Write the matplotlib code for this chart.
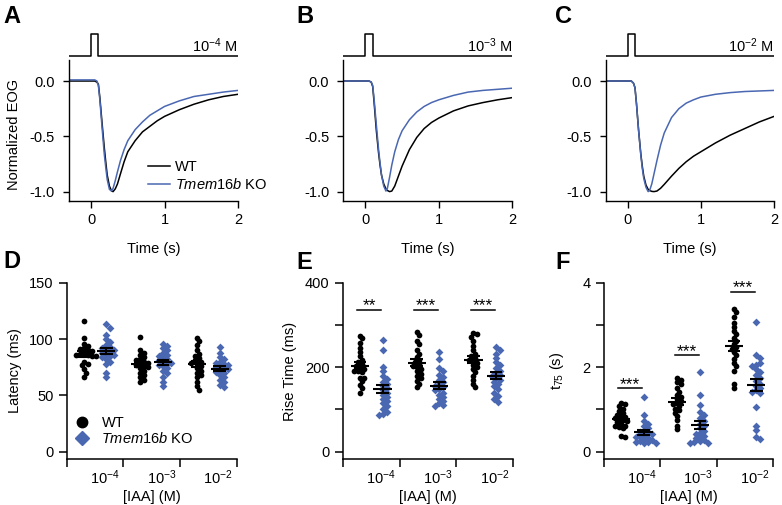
import numpy as np
import matplotlib
matplotlib.use('Agg')
import matplotlib.pyplot as plt
from matplotlib.lines import Line2D

plt.rcParams['font.family'] = ['Liberation Sans', 'DejaVu Sans']
plt.rcParams['mathtext.fontset'] = 'custom'
plt.rcParams['mathtext.rm'] = 'Liberation Sans'
plt.rcParams['mathtext.it'] = 'Liberation Sans:italic'
plt.rcParams['mathtext.bf'] = 'Liberation Sans:bold'
plt.rcParams['font.size'] = 10.5

# ---------------- data: EOG traces ----------------
time_s = [-0.3, -0.2, -0.1, 0.0, 0.05, 0.08, 0.1, 0.12, 0.15, 0.18, 0.2, 0.22, 0.25, 0.28, 0.3,
          0.33, 0.36, 0.4, 0.45, 0.5, 0.6, 0.7, 0.8, 0.9, 1.0, 1.2, 1.4, 1.6, 1.8, 2.0]

wt_1e4 = [0, 0, 0, 0, 0, -0.01, -0.03, -0.15, -0.38, -0.6, -0.73, -0.85, -0.95, -0.995, -1.0,
          -0.975, -0.93, -0.84, -0.73, -0.64, -0.54, -0.46, -0.41, -0.36, -0.32, -0.26, -0.21, -0.17, -0.14, -0.12]
ko_1e4 = [0.01, 0.01, 0.01, 0.01, 0.01, 0.0, -0.04, -0.17, -0.42, -0.66, -0.78, -0.89, -0.98, -0.995, -0.97,
          -0.9, -0.82, -0.72, -0.62, -0.54, -0.44, -0.37, -0.31, -0.27, -0.23, -0.18, -0.14, -0.12, -0.1, -0.085]
wt_1e3 = [0, 0, 0, 0, 0, -0.01, -0.05, -0.2, -0.45, -0.65, -0.76, -0.85, -0.93, -0.975, -0.99,
          -1.0, -0.995, -0.95, -0.86, -0.77, -0.62, -0.51, -0.43, -0.375, -0.335, -0.27, -0.225, -0.195, -0.17, -0.15]
ko_1e3 = [0, 0, 0, 0, 0, -0.01, -0.04, -0.17, -0.4, -0.62, -0.74, -0.85, -0.95, -0.995, -0.97,
          -0.87, -0.76, -0.64, -0.53, -0.45, -0.35, -0.28, -0.23, -0.195, -0.17, -0.13, -0.1, -0.085, -0.075, -0.065]
wt_1e2 = [0, 0, 0, 0, 0, -0.02, -0.06, -0.2, -0.45, -0.66, -0.77, -0.86, -0.94, -0.98, -0.99,
          -0.998, -1.0, -0.995, -0.97, -0.935, -0.86, -0.79, -0.73, -0.68, -0.64, -0.56, -0.49, -0.43, -0.37, -0.32]
ko_1e2 = [0, 0, 0, 0, 0, -0.02, -0.06, -0.2, -0.45, -0.67, -0.79, -0.88, -0.96, -1.0, -0.99,
          -0.93, -0.84, -0.72, -0.58, -0.47, -0.33, -0.25, -0.2, -0.17, -0.145, -0.12, -0.105, -0.095, -0.09, -0.085]

stim_t = [-0.3, 0.0, 0.0, 0.1, 0.1, 2.0]
stim_v = [0, 0, 1, 1, 0, 0]
conc_titles = [r'$10^{-4}$ M', r'$10^{-3}$ M', r'$10^{-2}$ M']

# ---------------- data: scatter panels ----------------
conc_labels = [r'$10^{-4}$', r'$10^{-3}$', r'$10^{-2}$']

latency_wt = [
    [116, 101, 96, 94, 92, 91, 90, 89, 88, 87, 86, 85, 86, 85, 80, 78, 77, 73, 70, 66],
    [102, 90, 88, 86, 84, 82, 81, 80, 79, 78, 77, 76, 75, 74, 72, 70, 68, 66, 64, 62],
    [101, 98, 95, 90, 87, 85, 83, 81, 80, 79, 78, 76, 74, 72, 70, 68, 66, 62, 58, 55],
]
latency_ko = [
    [113, 110, 104, 100, 97, 95, 93, 92, 91, 90, 89, 88, 87, 86, 85, 84, 82, 80, 78, 70, 66],
    [96, 94, 92, 90, 88, 86, 85, 84, 82, 81, 80, 79, 78, 77, 76, 74, 72, 70, 66, 62, 58],
    [93, 88, 84, 82, 80, 79, 78, 77, 76, 75, 74, 73, 72, 71, 70, 68, 66, 64, 62, 59, 57],
]
rise_wt = [
    [275, 268, 258, 245, 235, 226, 218, 212, 208, 204, 200, 196, 192, 188, 190, 175, 175, 168, 158, 150, 140],
    [284, 276, 262, 255, 240, 232, 225, 218, 212, 208, 204, 200, 196, 190, 185, 180, 175, 168, 160, 152],
    [280, 278, 272, 262, 250, 240, 232, 226, 222, 218, 214, 210, 205, 200, 195, 188, 180, 170, 160, 152],
]
rise_ko = [
    [265, 240, 200, 190, 180, 172, 165, 160, 155, 150, 145, 140, 135, 130, 125, 120, 115, 108, 100, 95, 90, 87],
    [237, 220, 198, 190, 182, 176, 170, 165, 160, 156, 152, 148, 145, 140, 135, 130, 125, 120, 115, 110, 107],
    [247, 240, 232, 222, 212, 205, 198, 192, 186, 182, 178, 174, 170, 165, 160, 155, 148, 140, 132, 125, 118],
]
t75_wt = [
    [1.16, 1.12, 1.08, 1.02, 0.96, 0.92, 0.88, 0.85, 0.82, 0.80, 0.78, 0.75, 0.72, 0.70, 0.66, 0.62, 0.58, 0.60, 0.55, 0.38, 0.34],
    [1.74, 1.70, 1.65, 1.60, 1.50, 1.42, 1.35, 1.30, 1.25, 1.20, 1.16, 1.12, 1.08, 1.02, 0.98, 0.92, 0.85, 0.75, 0.62, 0.53],
    [3.37, 3.30, 3.20, 3.05, 2.95, 2.85, 2.78, 2.70, 2.62, 2.55, 2.48, 2.42, 2.35, 2.28, 2.20, 2.10, 2.02, 1.90, 1.60, 1.50],
]
t75_ko = [
    [1.30, 0.87, 0.72, 0.65, 0.60, 0.55, 0.50, 0.47, 0.44, 0.42, 0.40, 0.37, 0.35, 0.32, 0.30, 0.28, 0.26, 0.24, 0.22, 0.21, 0.20],
    [1.89, 1.34, 1.10, 0.95, 0.88, 0.80, 0.72, 0.65, 0.60, 0.55, 0.50, 0.45, 0.42, 0.38, 0.35, 0.32, 0.28, 0.25, 0.23, 0.21, 0.20],
    [3.08, 2.29, 2.22, 2.05, 2.10, 2.02, 1.95, 1.88, 1.82, 1.75, 1.68, 1.60, 1.55, 1.50, 1.45, 1.42, 1.38, 1.05, 0.62, 0.52, 0.35, 0.30],
]
sig_rise = ['**', '***', '***']
sig_rise_y = [335, 335, 335]
sig_t75 = ['***', '***', '***']
sig_t75_y = [1.50, 2.28, 3.79]

BLUE = '#4a67b2'
W, H = 782, 505


def fr(x0, y0, x1, y1):
    return [x0 / W, 1 - y1 / H, (x1 - x0) / W, (y1 - y0) / H]


fig = plt.figure(figsize=(W / 100, H / 100), dpi=100)

# ---------------- top row ----------------
top_boxes = [(69, 238), (343.3, 512.3), (605.7, 774)]
traces = [(wt_1e4, ko_1e4), (wt_1e3, ko_1e3), (wt_1e2, ko_1e2)]
for i, ((x0, x1), (wt, ko)) in enumerate(zip(top_boxes, traces)):
    ax = fig.add_axes(fr(x0, 60, x1, 201))
    ax.plot(time_s, wt, color='k', lw=1.1)
    ax.plot(time_s, ko, color=BLUE, lw=1.1)
    ax.set_xlim(-0.3, 2.0)
    ax.set_ylim(-1.085, 0.19)
    ax.set_yticks([-1.0, -0.5, 0.0])
    ax.set_yticklabels(['-1.0', '-0.5', '0.0'])
    ax.set_xticks([0, 1, 2])
    for s in ['top', 'right']:
        ax.spines[s].set_visible(False)
    for s in ['left', 'bottom']:
        ax.spines[s].set_linewidth(1.0)
    ax.tick_params(axis='y', direction='out', length=4.2, width=1.0, pad=6)
    ax.tick_params(axis='x', direction='out', length=5, width=1.0, pad=4)
    ax.set_xlabel('Time (s)')
    ax.xaxis.set_label_coords(0.5, -0.29)
    if i == 0:
        ax.set_ylabel('Normalized EOG')
        ax.yaxis.set_label_coords(-0.284, 0.47)
        hs = [Line2D([], [], color='k', lw=1.1), Line2D([], [], color=BLUE, lw=1.1)]
        ax.legend(hs, ['WT', r'$\mathit{Tmem16b}$ KO'], loc='center left',
                  bbox_to_anchor=(0.47, 0.175), frameon=False, borderpad=0,
                  handlelength=1.5, handletextpad=0.3, labelspacing=0.2, borderaxespad=0)
    # stimulus
    sa = fig.add_axes(fr(x0, 30, x1, 58))
    sa.plot(stim_t, stim_v, color='k', lw=1.1)
    sa.set_xlim(-0.3, 2.0)
    sa.set_ylim(-0.09, 1.18)
    sa.axis('off')
    sa.text(2.0, 0.16, conc_titles[i], ha='right', va='baseline')


# ---------------- bottom row ----------------
def swarm_offsets(vals, ppx, ppy, d, step):
    placed = []
    offs = []
    cands = [0.0]
    for j in range(1, 40):
        cands += [j * step, -j * step]
    for v in vals:
        y = v * ppy
        for c in cands:
            if all((c - px) ** 2 + (y - py) ** 2 >= d * d for px, py in placed):
                break
        placed.append((c, y))
        offs.append(c / ppx)
    return np.array(offs)


bot_boxes = [(66.7, 236.7), (342.7, 513.3), (604, 773.3)]
datasets = [(latency_wt, latency_ko), (rise_wt, rise_ko), (t75_wt, t75_ko)]
ymax = [150, 400, 4]
yticks = [[0, 50, 100, 150], [0, 100, 200, 300, 400], [0, 1, 2, 3, 4]]
yticklabels = [['0', '50', '100', '150'], ['0', '', '200', '', '400'], ['0', '', '2', '', '4']]
ylabels = ['Latency (ms)', 'Rise Time (ms)', r'$\mathregular{t_{75}}$ (s)']
ylab_x = [-0.263, -0.266, -0.224]

axes_bot = []
for k, ((x0, x1), (wt, ko)) in enumerate(zip(bot_boxes, datasets)):
    ax = fig.add_axes(fr(x0, 282.7, x1, 459.3))
    axes_bot.append(ax)
    ppx = (x1 - x0) / 3.0
    ppy = 169.0 / ymax[k]
    for g in range(3):
        for vals, xc, col, mk, sz, dd in [(wt[g], g + 0.3, 'k', 'o', 17, 3.4),
                                          (ko[g], g + 0.7, BLUE, 'D', 16, 4.0)]:
            v = np.array(vals, dtype=float)
            offs = swarm_offsets(v, ppx, ppy, dd, 2.0)
            ax.scatter(xc + offs, v, s=sz, marker=mk, color=col, linewidths=0, zorder=3)
            m = v.mean()
            se = v.std(ddof=1) / np.sqrt(len(v))
            ax.plot([xc - 0.16, xc + 0.16], [m, m], color='k', lw=1.5, zorder=5, solid_capstyle='butt')
            ax.plot([xc - 0.11, xc + 0.11], [m + se, m + se], color='k', lw=1.5, zorder=5, solid_capstyle='butt')
            ax.plot([xc - 0.11, xc + 0.11], [m - se, m - se], color='k', lw=1.5, zorder=5, solid_capstyle='butt')
            ax.plot([xc, xc], [m - se, m + se], color='k', lw=1.5, zorder=5)
    ax.set_xlim(0, 3)
    ax.set_ylim(-ymax[k] * 7.6 / 169.0, ymax[k])
    ax.set_yticks(yticks[k])
    ax.set_yticklabels(yticklabels[k])
    ax.set_xticks([0, 1, 2, 3])
    ax.set_xticklabels(['', '', '', ''])
    ax.set_xticks([0.67, 1.67, 2.67], minor=True)
    ax.set_xticklabels(conc_labels, minor=True)
    for s in ['top', 'right']:
        ax.spines[s].set_visible(False)
    for s in ['left', 'bottom']:
        ax.spines[s].set_linewidth(1.1)
    ax.tick_params(axis='y', direction='out', length=6, width=1.1, pad=3.5)
    ax.tick_params(axis='x', which='major', direction='out', length=6, width=1.1)
    ax.tick_params(axis='x', which='minor', length=0, pad=6.5)
    ax.set_xlabel('[IAA] (M)')
    ax.xaxis.set_label_coords(0.5, -0.175)
    ax.set_ylabel(ylabels[k])
    ax.yaxis.set_label_coords(ylab_x[k], 0.5)

# significance bars
for ax, labs, ys in [(axes_bot[1], sig_rise, sig_rise_y), (axes_bot[2], sig_t75, sig_t75_y)]:
    for g in range(3):
        ax.plot([g + 0.25, g + 0.68], [ys[g], ys[g]], color='k', lw=1.1)
        ax.annotate(labs[g], (g + 0.465, ys[g]), xytext=(0, -0.3), textcoords='offset points',
                    ha='center', va='baseline', fontsize=12.5)

# legend in D
hd = [Line2D([], [], ls='none', marker='o', color='k', markersize=7.5),
      Line2D([], [], ls='none', marker='D', color=BLUE, markersize=7)]
axes_bot[0].legend(hd, ['WT', r'$\mathit{Tmem16b}$ KO'], loc='center left',
                   bbox_to_anchor=(0.05, 0.16), frameon=False, borderpad=0,
                   handlelength=1.0, handletextpad=0.8, labelspacing=0.1, borderaxespad=0)

# panel letters
for lab, (px, py) in zip('ABCDEF', [(3, 5), (296, 5), (555, 5), (3, 250), (296, 251), (555, 251)]):
    fig.text(px / W, 1 - py / H, lab, fontsize=17, fontweight='bold', ha='left', va='top')

fig.savefig('out.png', dpi=100)
